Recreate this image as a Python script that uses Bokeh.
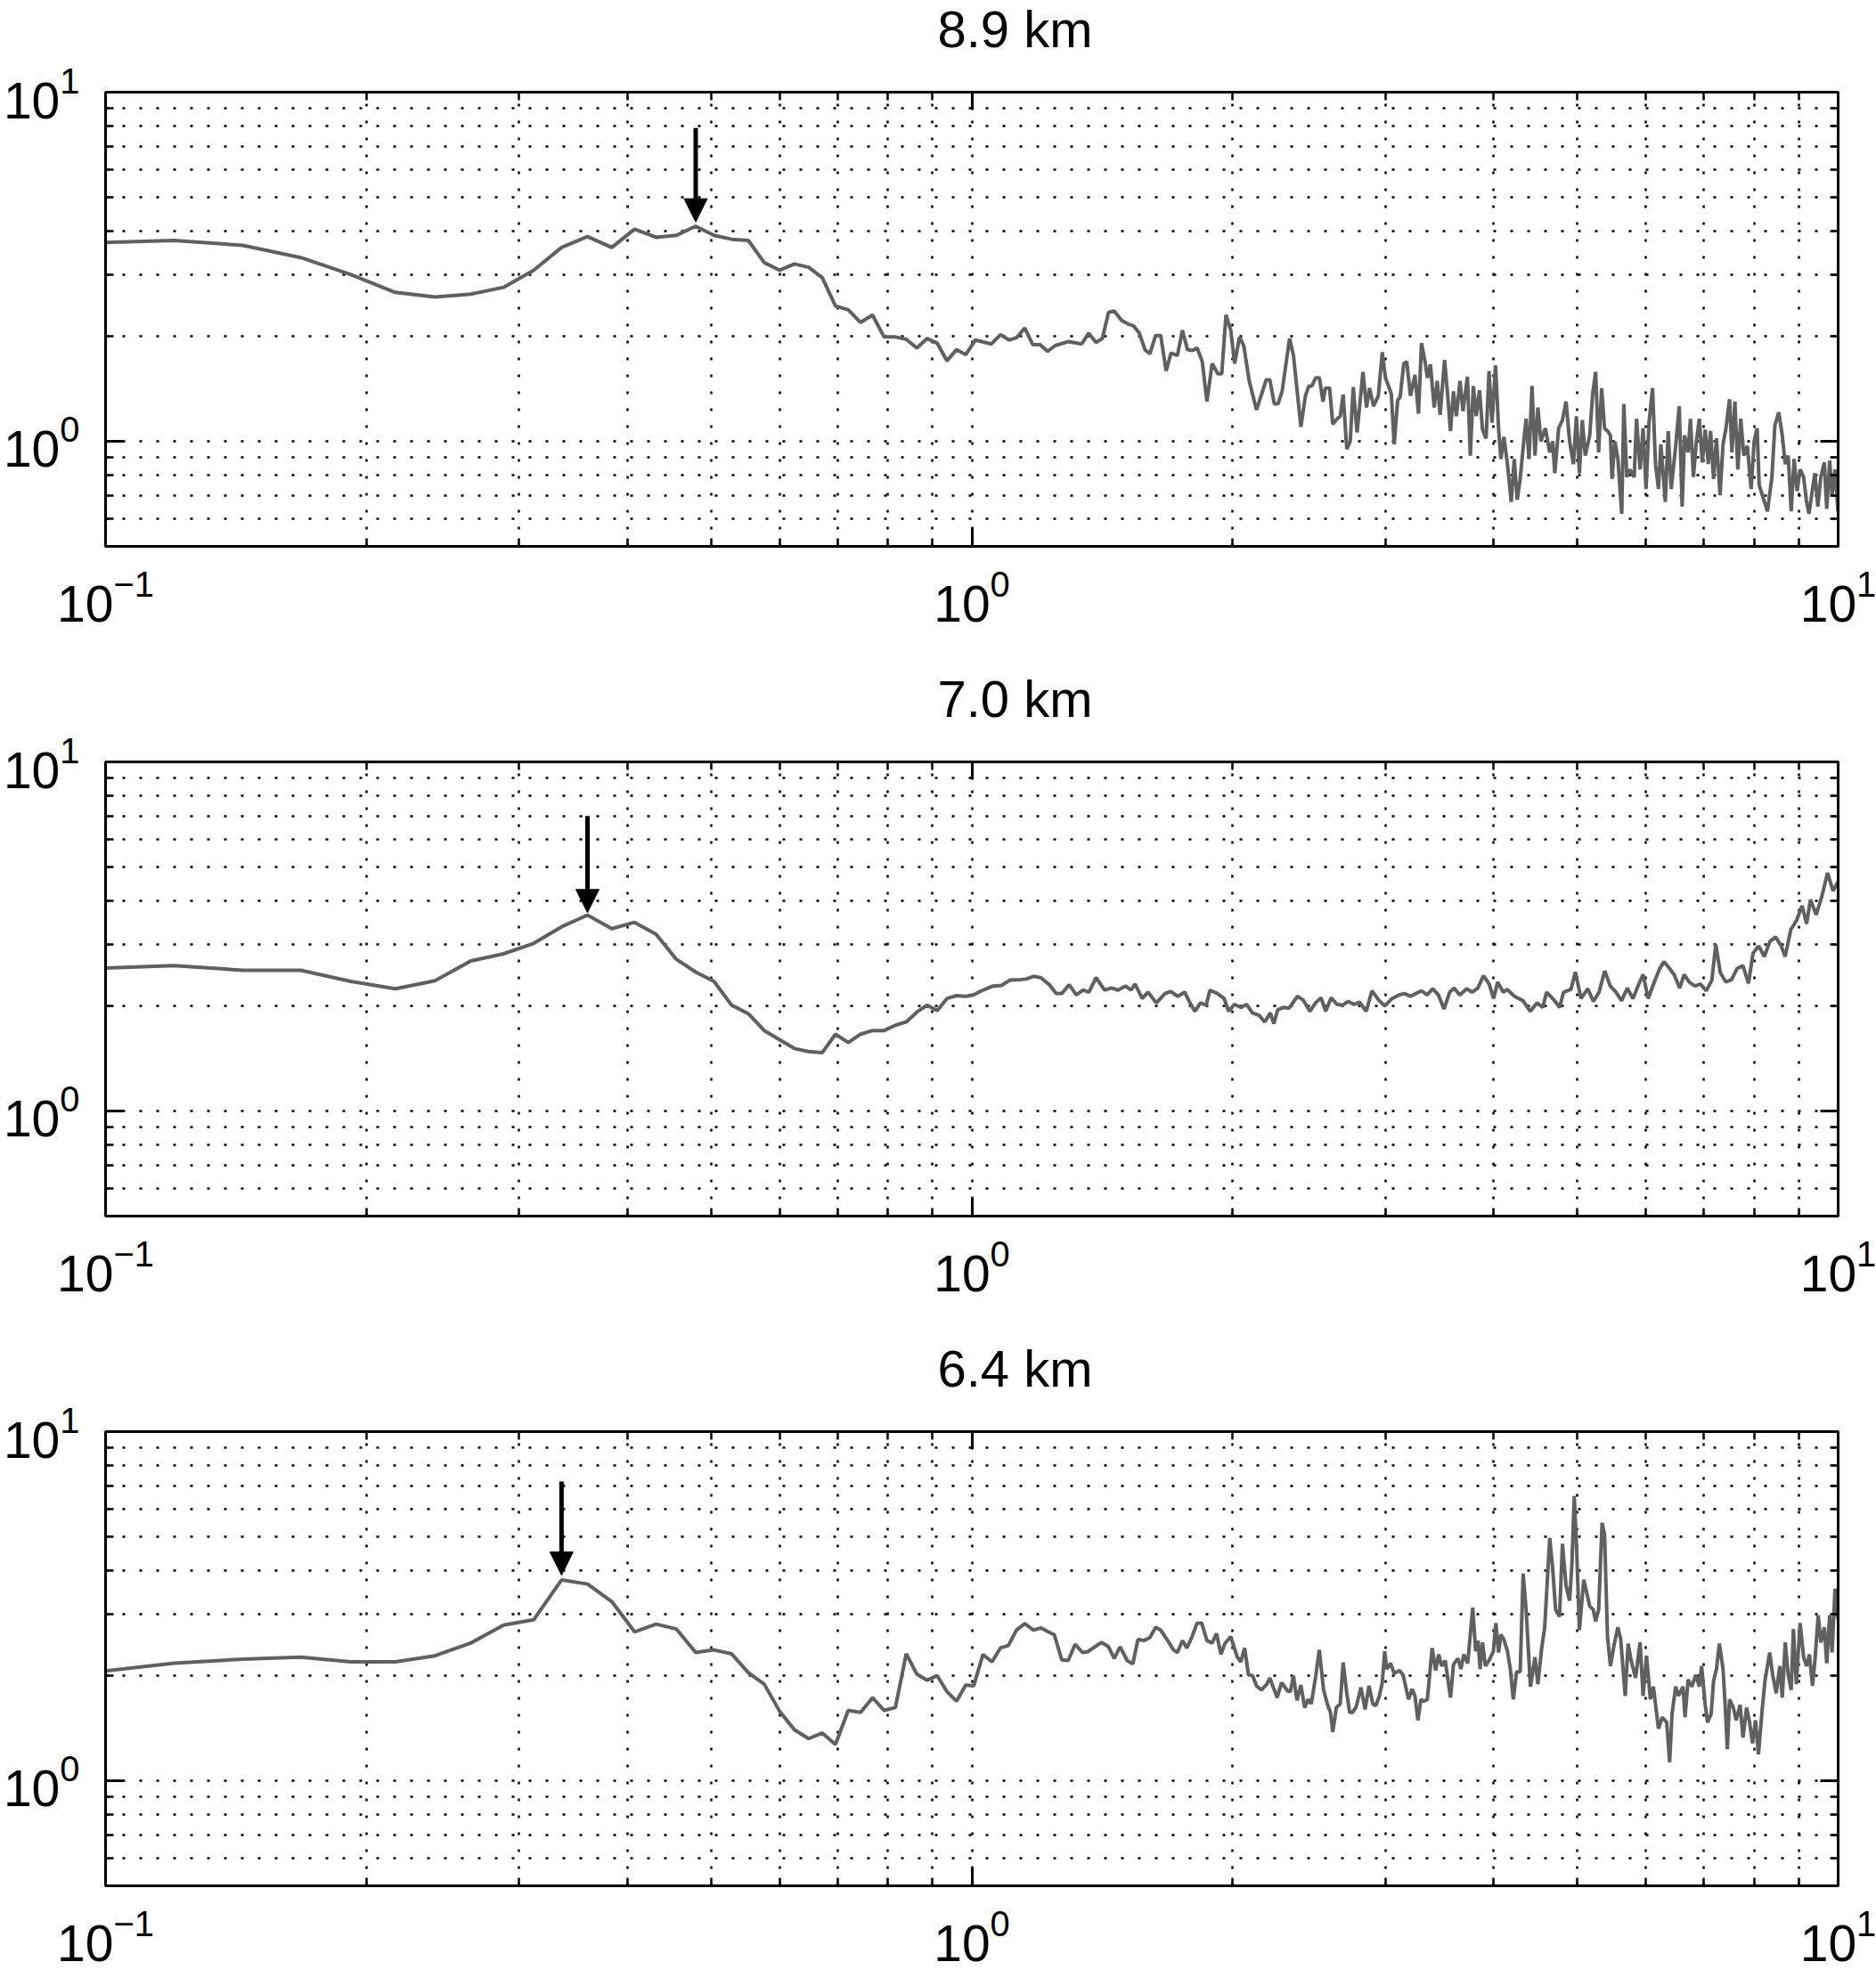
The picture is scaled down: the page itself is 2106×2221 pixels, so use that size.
from bokeh.plotting import figure
from bokeh.layouts import column
from bokeh.models import Range1d, LogAxis, Arrow, NormalHead, FixedTicker, Title
from bokeh.embed import file_html
from bokeh.resources import INLINE

# ---------------- data ----------------
titles = ["8.9 km", "7.0 km", "6.4 km"]

x_major = [0.1, 1.0, 10.0]
x_minor = [0.2, 0.3, 0.4, 0.5, 0.6, 0.7, 0.8, 0.9, 2, 3, 4, 5, 6, 7, 8, 9]
y_major = [1.0, 10.0]
y_minor = [0.6, 0.7, 0.8, 0.9, 2, 3, 4, 5, 6, 7, 8, 9]

# common low-frequency grid (df = 0.024)
freq_low = [0.096, 0.120, 0.144, 0.168, 0.192, 0.216, 0.240, 0.264, 0.288, 0.312,
            0.336, 0.360, 0.384, 0.408, 0.432, 0.456, 0.480, 0.504, 0.528, 0.552,
            0.576, 0.600, 0.624, 0.648, 0.672, 0.696, 0.720, 0.744, 0.768, 0.792,
            0.816, 0.840, 0.864, 0.888, 0.912, 0.936, 0.960, 0.984]

psd_89_low = [3.70, 3.76, 3.64, 3.36, 3.00, 2.67, 2.59, 2.64, 2.76, 3.09,
              3.59, 3.86, 3.59, 4.05, 3.84, 3.89, 4.13, 3.89, 3.79, 3.76,
              3.25, 3.09, 3.22, 3.15, 2.94, 2.44, 2.38, 2.19, 2.30, 1.99,
              1.99, 1.96, 1.85, 1.97, 1.91, 1.70, 1.83, 1.77]

psd_70_low = [2.56, 2.61, 2.53, 2.53, 2.35, 2.24, 2.36, 2.69, 2.82, 3.02,
              3.37, 3.64, 3.33, 3.47, 3.21, 2.72, 2.50, 2.35, 2.01, 1.90,
              1.70, 1.60, 1.51, 1.48, 1.47, 1.66, 1.57, 1.66, 1.70, 1.70,
              1.76, 1.80, 1.92, 2.01, 1.94, 2.10, 2.14, 2.13]

psd_64_low = [2.04, 2.17, 2.23, 2.26, 2.19, 2.19, 2.28, 2.48, 2.79, 2.89,
              3.76, 3.66, 3.26, 2.67, 2.81, 2.72, 2.33, 2.37, 2.31, 2.04,
              1.89, 1.58, 1.40, 1.32, 1.37, 1.27, 1.59, 1.57, 1.73, 1.59,
              1.62, 2.31, 2.02, 1.94, 2.00, 1.80, 1.69, 1.88]

# (frequency, value) pairs above 1 Hz
psd_89_high = [
    (1.009, 1.95), (1.053, 1.90), (1.079, 2.02), (1.104, 1.95), (1.126, 1.98), (1.151, 2.11),
    (1.176, 1.89), (1.199, 1.89), (1.223, 1.81), (1.248, 1.88), (1.292, 1.93), (1.339, 1.90),
    (1.364, 2.04), (1.391, 1.92), (1.415, 1.97), (1.438, 2.34), (1.460, 2.36), (1.489, 2.22),
    (1.513, 2.17), (1.537, 2.14), (1.561, 2.04), (1.584, 1.83), (1.605, 1.78), (1.630, 2.01),
    (1.652, 2.01), (1.676, 1.59), (1.698, 1.79), (1.727, 1.76), (1.750, 2.08), (1.774, 1.83),
    (1.799, 1.82), (1.820, 1.85), (1.845, 1.69), (1.868, 1.30), (1.894, 1.67), (1.923, 1.56),
    (1.943, 1.56), (1.965, 2.30), (1.990, 2.08), (2.011, 1.67), (2.037, 1.99), (2.060, 1.88),
    (2.090, 1.49), (2.131, 1.23), (2.187, 1.50), (2.208, 1.50), (2.234, 1.28), (2.257, 1.28),
    (2.281, 1.39), (2.327, 1.97), (2.351, 1.76), (2.398, 1.10), (2.427, 1.35), (2.449, 1.44),
    (2.469, 1.44), (2.494, 1.52), (2.519, 1.52), (2.543, 1.30), (2.559, 1.42), (2.588, 1.42),
    (2.610, 1.12), (2.641, 1.16), (2.662, 1.18), (2.683, 1.36), (2.709, 0.95), (2.734, 1.00),
    (2.756, 1.43), (2.784, 1.06), (2.828, 1.58), (2.855, 1.25), (2.878, 1.42), (2.909, 1.26),
    (2.946, 1.35), (2.977, 1.80), (3.002, 1.52), (3.049, 1.37), (3.073, 0.98), (3.101, 1.31),
    (3.122, 1.34), (3.152, 1.67), (3.177, 1.69), (3.209, 1.35), (3.247, 1.55), (3.278, 1.20),
    (3.304, 1.91), (3.338, 1.67), (3.356, 1.52), (3.383, 1.66), (3.418, 1.25), (3.445, 1.49),
    (3.472, 1.19), (3.513, 1.71), (3.541, 1.37), (3.569, 1.07), (3.597, 1.39), (3.625, 1.18),
    (3.660, 1.49), (3.689, 1.22), (3.733, 1.53), (3.762, 0.91), (3.792, 1.44), (3.822, 1.18),
    (3.855, 1.40), (3.886, 1.08), (3.923, 1.02), (3.954, 1.59), (3.985, 1.13), (4.023, 1.65),
    (4.055, 1.09), (4.081, 0.89), (4.113, 1.03), (4.152, 0.86), (4.194, 0.67), (4.228, 0.89),
    (4.261, 0.68), (4.295, 0.78), (4.329, 0.96), (4.363, 1.16), (4.397, 0.89), (4.432, 1.44),
    (4.467, 0.91), (4.502, 1.25), (4.538, 1.00), (4.592, 1.09), (4.646, 0.93), (4.683, 1.00),
    (4.709, 0.81), (4.757, 1.09), (4.806, 1.15), (4.852, 1.30), (4.898, 1.00), (4.948, 0.86),
    (4.987, 1.18), (5.027, 0.81), (5.066, 1.15), (5.106, 0.91), (5.167, 1.04), (5.208, 1.37),
    (5.249, 1.58), (5.291, 0.93), (5.333, 1.42), (5.375, 1.09), (5.417, 1.07), (5.460, 1.04),
    (5.482, 0.78), (5.525, 1.00), (5.569, 0.89), (5.626, 0.62), (5.657, 1.28), (5.702, 0.79),
    (5.747, 0.83), (5.815, 0.79), (5.852, 1.16), (5.907, 0.83), (5.954, 1.09), (6.001, 0.73),
    (6.049, 1.13), (6.106, 1.42), (6.154, 0.86), (6.203, 0.73), (6.242, 0.98), (6.317, 0.67),
    (6.366, 1.07), (6.417, 0.73), (6.493, 0.97), (6.555, 1.26), (6.606, 0.65), (6.648, 1.04),
    (6.711, 0.93), (6.753, 1.16), (6.807, 0.79), (6.860, 1.00), (6.915, 1.16), (6.969, 0.87),
    (7.024, 1.08), (7.080, 0.86), (7.124, 1.07), (7.181, 0.78), (7.237, 1.02), (7.306, 0.70),
    (7.364, 0.98), (7.422, 1.09), (7.493, 1.32), (7.540, 0.93), (7.600, 1.30), (7.660, 0.83),
    (7.720, 1.16), (7.782, 0.91), (7.855, 0.97), (7.936, 0.73), (7.999, 1.00), (8.062, 1.09),
    (8.107, 0.75), (8.190, 0.69), (8.287, 0.63), (8.386, 0.79), (8.452, 1.11), (8.539, 1.21),
    (8.620, 1.04), (8.689, 0.86), (8.757, 0.91), (8.827, 0.63), (8.896, 0.89), (8.967, 0.72),
    (9.038, 0.83), (9.123, 0.79), (9.196, 0.67), (9.254, 0.62), (9.342, 0.73), (9.401, 0.81),
    (9.475, 0.65), (9.550, 0.79), (9.640, 0.87), (9.701, 0.64), (9.778, 0.88), (9.840, 0.70),
    (9.918, 0.83), (9.996, 0.63),
]

psd_70_high = [
    (1.004, 2.15), (1.026, 2.21), (1.058, 2.28), (1.082, 2.29), (1.106, 2.37), (1.140, 2.38),
    (1.157, 2.39), (1.178, 2.43), (1.201, 2.41), (1.229, 2.30), (1.251, 2.17), (1.270, 2.17),
    (1.295, 2.30), (1.320, 2.15), (1.344, 2.22), (1.365, 2.19), (1.391, 2.41), (1.423, 2.22),
    (1.449, 2.25), (1.475, 2.22), (1.504, 2.28), (1.527, 2.22), (1.543, 2.31), (1.573, 2.10),
    (1.597, 2.19), (1.633, 2.04), (1.671, 2.17), (1.696, 2.20), (1.729, 2.13), (1.761, 2.19),
    (1.782, 2.06), (1.809, 1.93), (1.836, 2.04), (1.864, 2.01), (1.883, 2.22), (1.921, 2.17),
    (1.955, 2.10), (1.979, 1.93), (2.009, 2.02), (2.045, 1.98), (2.076, 2.02), (2.108, 1.91),
    (2.146, 1.88), (2.178, 1.80), (2.211, 1.91), (2.231, 1.78), (2.255, 1.95), (2.289, 1.98),
    (2.323, 1.97), (2.376, 2.13), (2.412, 2.08), (2.456, 1.93), (2.493, 2.04), (2.530, 2.11),
    (2.561, 1.93), (2.599, 2.11), (2.639, 2.02), (2.679, 2.01), (2.719, 2.06), (2.760, 2.02),
    (2.802, 2.05), (2.853, 1.93), (2.896, 2.21), (2.953, 2.07), (2.997, 2.00), (3.056, 2.10),
    (3.112, 2.15), (3.159, 2.17), (3.206, 2.13), (3.255, 2.17), (3.304, 2.21), (3.354, 2.15),
    (3.404, 2.24), (3.456, 2.15), (3.508, 1.96), (3.561, 2.19), (3.604, 2.25), (3.658, 2.15),
    (3.725, 2.24), (3.781, 2.19), (3.838, 2.25), (3.896, 2.44), (3.955, 2.31), (4.002, 2.10),
    (4.045, 2.34), (4.106, 2.19), (4.149, 2.23), (4.231, 2.13), (4.327, 2.07), (4.412, 1.93),
    (4.492, 2.04), (4.560, 1.98), (4.608, 2.19), (4.699, 2.08), (4.770, 1.98), (4.820, 2.19),
    (4.915, 2.23), (4.974, 2.50), (5.049, 2.10), (5.141, 2.24), (5.218, 2.06), (5.297, 2.19),
    (5.377, 2.52), (5.458, 2.28), (5.541, 2.19), (5.624, 2.07), (5.709, 2.25), (5.796, 2.10),
    (5.883, 2.30), (5.954, 2.46), (6.035, 2.10), (6.126, 2.32), (6.219, 2.55), (6.294, 2.68),
    (6.389, 2.56), (6.466, 2.46), (6.563, 2.25), (6.642, 2.46), (6.733, 2.34), (6.834, 2.28),
    (6.938, 2.31), (7.042, 2.21), (7.149, 2.37), (7.224, 3.00), (7.311, 2.49), (7.422, 2.34),
    (7.534, 2.38), (7.647, 2.56), (7.763, 2.61), (7.880, 2.32), (7.975, 2.83), (8.096, 2.97),
    (8.218, 2.77), (8.342, 3.06), (8.468, 3.15), (8.596, 2.97), (8.686, 2.77), (8.818, 3.31),
    (8.951, 3.51), (9.086, 3.87), (9.196, 3.44), (9.292, 4.03), (9.433, 3.65), (9.575, 4.11),
    (9.720, 4.81), (9.867, 4.27), (9.990, 4.53),
]

psd_64_high = [
    (1.005, 1.87), (1.030, 2.30), (1.055, 2.19), (1.079, 2.40), (1.102, 2.44), (1.126, 2.70),
    (1.151, 2.82), (1.178, 2.70), (1.202, 2.74), (1.225, 2.67), (1.245, 2.62), (1.270, 2.22),
    (1.292, 2.21), (1.316, 2.46), (1.342, 2.33), (1.360, 2.34), (1.387, 2.42), (1.412, 2.49),
    (1.438, 2.42), (1.460, 2.24), (1.483, 2.42), (1.511, 2.21), (1.534, 2.16), (1.555, 2.54),
    (1.580, 2.52), (1.605, 2.57), (1.630, 2.75), (1.652, 2.70), (1.683, 2.52), (1.709, 2.37),
    (1.727, 2.33), (1.750, 2.52), (1.771, 2.40), (1.796, 2.59), (1.820, 2.83), (1.842, 2.83),
    (1.868, 2.52), (1.894, 2.48), (1.916, 2.64), (1.939, 2.30), (1.959, 2.47), (1.990, 2.59),
    (2.009, 2.40), (2.025, 2.26), (2.044, 2.19), (2.065, 2.40), (2.086, 2.01), (2.109, 2.00),
    (2.131, 1.87), (2.159, 1.82), (2.190, 1.89), (2.208, 1.97), (2.251, 1.73), (2.278, 1.91),
    (2.314, 1.81), (2.332, 1.80), (2.351, 2.00), (2.373, 1.70), (2.398, 1.88), (2.422, 1.62),
    (2.445, 1.71), (2.465, 1.66), (2.494, 1.99), (2.518, 2.37), (2.547, 1.82), (2.574, 1.65),
    (2.594, 1.57), (2.610, 1.38), (2.635, 1.62), (2.662, 1.66), (2.683, 2.18), (2.709, 1.78),
    (2.730, 1.57), (2.752, 1.57), (2.778, 1.63), (2.813, 1.85), (2.844, 1.60), (2.874, 1.87),
    (2.903, 1.66), (2.926, 1.64), (2.954, 1.75), (2.977, 1.91), (2.996, 2.35), (3.012, 2.09),
    (3.044, 2.17), (3.072, 2.03), (3.116, 2.07), (3.146, 2.01), (3.192, 1.71), (3.222, 1.83),
    (3.247, 1.75), (3.273, 1.49), (3.299, 1.71), (3.325, 1.69), (3.356, 1.71), (3.399, 2.40),
    (3.431, 2.07), (3.458, 2.30), (3.486, 2.13), (3.519, 2.21), (3.569, 1.73), (3.597, 2.15),
    (3.640, 2.24), (3.669, 2.09), (3.698, 2.30), (3.736, 2.17), (3.786, 3.13), (3.816, 2.35),
    (3.840, 2.52), (3.861, 2.09), (3.886, 2.49), (3.916, 2.13), (3.954, 2.21), (4.000, 2.35),
    (4.026, 2.83), (4.055, 2.33), (4.081, 2.62), (4.113, 2.54), (4.152, 2.35), (4.184, 2.09),
    (4.217, 1.71), (4.254, 2.05), (4.295, 2.05), (4.329, 3.92), (4.363, 3.09), (4.414, 1.86),
    (4.467, 2.26), (4.502, 1.89), (4.548, 2.40), (4.584, 2.75), (4.646, 4.96), (4.683, 4.04),
    (4.719, 3.09), (4.768, 2.95), (4.806, 4.77), (4.852, 3.62), (4.898, 3.28), (4.928, 4.16),
    (4.959, 6.54), (4.991, 4.59), (5.027, 2.70), (5.086, 3.77), (5.167, 3.16), (5.215, 3.09),
    (5.249, 2.86), (5.291, 3.09), (5.340, 5.48), (5.375, 5.06), (5.417, 2.59), (5.460, 2.13),
    (5.511, 2.44), (5.569, 2.75), (5.611, 2.54), (5.678, 1.75), (5.723, 2.47), (5.768, 2.21),
    (5.837, 1.97), (5.907, 2.49), (5.954, 1.75), (6.009, 2.28), (6.071, 1.71), (6.119, 1.86),
    (6.203, 1.41), (6.265, 1.52), (6.340, 1.47), (6.390, 1.13), (6.430, 1.55), (6.493, 1.86),
    (6.542, 1.75), (6.620, 1.86), (6.657, 1.52), (6.711, 1.95), (6.778, 1.86), (6.848, 2.01),
    (6.915, 1.86), (6.956, 2.13), (7.024, 1.65), (7.067, 1.47), (7.134, 1.55), (7.181, 1.93),
    (7.237, 2.09), (7.293, 2.47), (7.364, 2.09), (7.409, 1.62), (7.449, 1.23), (7.493, 1.71),
    (7.568, 1.62), (7.627, 1.49), (7.706, 1.65), (7.767, 1.33), (7.840, 1.62), (7.902, 1.47),
    (7.965, 1.28), (8.028, 1.49), (8.091, 1.19), (8.168, 1.58), (8.232, 1.93), (8.337, 2.33),
    (8.403, 2.01), (8.482, 1.78), (8.563, 2.13), (8.620, 1.73), (8.689, 2.49), (8.757, 2.01),
    (8.827, 1.82), (8.879, 2.72), (8.949, 1.89), (9.038, 2.83), (9.123, 2.26), (9.196, 2.13),
    (9.264, 2.30), (9.342, 1.87), (9.401, 2.21), (9.485, 2.98), (9.550, 2.49), (9.640, 2.75),
    (9.701, 2.17), (9.778, 2.98), (9.840, 2.33), (9.918, 3.55), (9.996, 2.91),
]

# peak markers (frequency, arrow tip value, arrow tail value)
arrow_freq = [0.480, 0.360, 0.336]
arrow_tip = [4.25, 3.70, 3.88]
arrow_tail = [7.9, 7.0, 7.2]

lows = [psd_89_low, psd_70_low, psd_64_low]
highs = [psd_89_high, psd_70_high, psd_64_high]

# ---------------- styling ----------------
FONT = "Liberation Sans"
LINE_COLOR = "#606060"
heights = [752, 752, 717]
bottoms = [139, 139, 104]


def style_axis(ax, standoff):
    ax.axis_line_color = "black"
    ax.axis_line_width = 3
    ax.major_tick_in = 20
    ax.major_tick_out = 0
    ax.minor_tick_in = 9
    ax.minor_tick_out = 0
    ax.major_tick_line_color = "black"
    ax.minor_tick_line_color = "black"
    ax.major_tick_line_width = 3
    ax.minor_tick_line_width = 2.5
    ax.major_label_text_font = FONT
    ax.major_label_text_font_size = "57px"
    ax.major_label_text_color = "black"
    ax.major_label_standoff = standoff


def mirror_axes(p, side, major, minor):
    # tick marks only (no labels) on the opposite frame edge
    a1 = LogAxis(ticker=FixedTicker(ticks=[], minor_ticks=minor))
    a2 = LogAxis(ticker=FixedTicker(ticks=[], minor_ticks=major))
    for a, ln in ((a1, 9), (a2, 20)):
        a.axis_line_color = "black"
        a.axis_line_width = 3
        a.major_tick_in = 0
        a.major_tick_out = 0
        a.minor_tick_in = ln
        a.minor_tick_out = 0
        a.minor_tick_line_color = "black"
        a.minor_tick_line_width = 2.5 if ln == 9 else 3
        a.major_label_standoff = 0
        p.add_layout(a, side)


def make_panel(i):
    p = figure(width=2106, height=heights[i], title=None,
               x_axis_type="log", y_axis_type="log",
               x_range=Range1d(0.1, 10), y_range=Range1d(0.5, 10),
               output_backend="svg", toolbar_location=None,
               min_border_left=113, min_border_right=43,
               min_border_top=103, min_border_bottom=bottoms[i])

    p.outline_line_color = "black"
    p.outline_line_width = 3

    xt = FixedTicker(ticks=x_major, minor_ticks=x_minor)
    yt = FixedTicker(ticks=y_major, minor_ticks=y_minor)
    p.xaxis[0].ticker = xt
    p.yaxis[0].ticker = yt
    style_axis(p.xaxis[0], 26)
    style_axis(p.yaxis[0], 29)
    mirror_axes(p, "above", x_major, x_minor)
    mirror_axes(p, "right", y_major, y_minor)

    # invisible spacer (one hidden outward tick) between the frame and the title
    spacer = LogAxis(ticker=FixedTicker(ticks=[], minor_ticks=x_major[1:2]))
    spacer.axis_line_color = None
    spacer.major_tick_line_color = None
    spacer.minor_tick_line_color = None
    spacer.major_tick_in = 0
    spacer.minor_tick_in = 0
    spacer.major_tick_out = 42
    spacer.minor_tick_out = 42
    spacer.major_label_standoff = 0
    p.add_layout(spacer, "above")

    p.add_layout(Title(text=titles[i], text_font=FONT, text_font_size="58px",
                       text_font_style="normal", text_color="black",
                       align="left", offset=934, standoff=-6,
                       vertical_align="bottom"), "above")

    p.xgrid[0].ticker = xt
    p.ygrid[0].ticker = yt
    for g in (p.xgrid[0], p.ygrid[0]):
        g.grid_line_color = "black"
        g.grid_line_dash = "3 16"
        g.grid_line_width = 2.5
        g.minor_grid_line_color = "black"
        g.minor_grid_line_dash = "3 16"
        g.minor_grid_line_width = 2.5

    f_hi = [pt[0] for pt in highs[i]]
    v_hi = [pt[1] for pt in highs[i]]
    freq = list(freq_low) + f_hi
    vals = list(lows[i]) + v_hi
    p.line(freq, vals, line_color=LINE_COLOR, line_width=4)

    p.add_layout(Arrow(end=NormalHead(size=26, fill_color="black", line_color="black"),
                       x_start=arrow_freq[i], y_start=arrow_tail[i],
                       x_end=arrow_freq[i], y_end=arrow_tip[i],
                       line_color="black", line_width=5))
    return p


layout = column(*[make_panel(i) for i in range(3)], spacing=0)
open("out.html", "w").write(file_html(layout, INLINE))
